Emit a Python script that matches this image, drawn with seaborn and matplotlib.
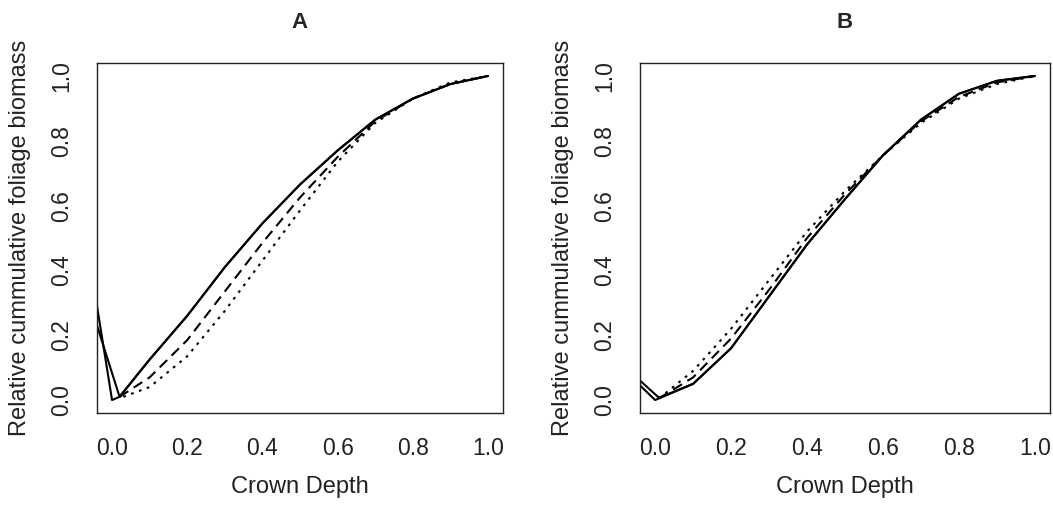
import matplotlib
matplotlib.use("Agg")
import matplotlib.pyplot as plt
import seaborn as sns
import pandas as pd

# ---------------- data ----------------
depth = [0.1, 0.2, 0.3, 0.4, 0.5, 0.6, 0.7, 0.8, 0.9, 1.0]

# Panel A
a_solid1_x = [-0.04, 0.0, 0.02] + depth
a_solid1_y = [0.29, 0.0, 0.01, 0.125, 0.26, 0.41, 0.545, 0.665, 0.77, 0.865, 0.93, 0.975, 1.0]
a_solid2_x = [-0.04, 0.02] + depth
a_solid2_y = [0.23, 0.01, 0.125, 0.26, 0.41, 0.545, 0.665, 0.77, 0.865, 0.93, 0.975, 1.0]
a_dash_x = [0.02] + depth
a_dash_y = [0.01, 0.07, 0.185, 0.335, 0.485, 0.625, 0.75, 0.86, 0.93, 0.975, 1.0]
a_dot_x = [0.03] + depth
a_dot_y = [0.01, 0.04, 0.135, 0.275, 0.43, 0.585, 0.735, 0.855, 0.93, 0.98, 1.0]

# Panel B
b_solid1_x = [-0.04, 0.0] + depth
b_solid1_y = [0.045, 0.0, 0.05, 0.16, 0.32, 0.48, 0.62, 0.755, 0.865, 0.945, 0.985, 1.0]
b_solid2_x = [-0.04, 0.01] + depth
b_solid2_y = [0.06, 0.007, 0.05, 0.16, 0.32, 0.48, 0.62, 0.755, 0.865, 0.945, 0.985, 1.0]
b_dash_x = [0.01] + depth
b_dash_y = [0.005, 0.07, 0.19, 0.34, 0.50, 0.635, 0.755, 0.86, 0.935, 0.98, 1.0]
b_dot_x = [0.01] + depth
b_dot_y = [0.005, 0.09, 0.22, 0.37, 0.52, 0.645, 0.755, 0.855, 0.93, 0.975, 1.0]

ticks = [0.0, 0.2, 0.4, 0.6, 0.8, 1.0]
tick_labels = ["0.0", "0.2", "0.4", "0.6", "0.8", "1.0"]
panel_titles = ["A", "B"]
xlabel = "Crown Depth"
ylabel = "Relative cummulative foliage biomass"

# ---------------- style ----------------
sns.set_style("white")
plt.rcParams["font.family"] = ["Liberation Sans", "DejaVu Sans"]
plt.rcParams["axes.edgecolor"] = "#222222"
plt.rcParams["axes.linewidth"] = 1.0

fig = plt.figure(figsize=(10.53, 5.08), dpi=100)
ax_a = fig.add_axes([97 / 1053, 1 - 413 / 508, (503 - 97) / 1053, (413 - 63) / 508])
ax_b = fig.add_axes([640 / 1053, 1 - 413 / 508, (1050 - 640) / 1053, (413 - 63) / 508])

solid = "-"
dashed = (0, (5, 3))
dotted = (0, (1.3, 2.7))

panels = [
    (ax_a, [(a_solid1_x, a_solid1_y, solid), (a_solid2_x, a_solid2_y, solid),
            (a_dash_x, a_dash_y, dashed), (a_dot_x, a_dot_y, dotted)]),
    (ax_b, [(b_solid1_x, b_solid1_y, solid), (b_solid2_x, b_solid2_y, solid),
            (b_dash_x, b_dash_y, dashed), (b_dot_x, b_dot_y, dotted)]),
]

for (ax, series), title in zip(panels, panel_titles):
    for xs, ys, ls in series:
        df = pd.DataFrame({"x": xs, "y": ys})
        sns.lineplot(data=df, x="x", y="y", ax=ax, color="black", linewidth=1.5,
                     linestyle=ls, estimator=None, sort=False, legend=False)
    ax.set_xlim(-0.04, 1.04)
    ax.set_ylim(-0.04, 1.04)
    ax.set_xticks(ticks)
    ax.set_xticklabels(tick_labels)
    ax.set_yticks(ticks)
    ax.set_yticklabels(tick_labels)
    ax.tick_params(axis="both", direction="out", length=8, width=1.0,
                   color="#222222", labelsize=16.5, labelcolor="#222222", pad=9)
    ax.tick_params(axis="y", labelrotation=90)
    for lab in ax.get_yticklabels():
        lab.set_va("center")
    ax.set_xlabel(xlabel, fontsize=17, color="#222222", labelpad=12)
    ax.set_ylabel(ylabel, fontsize=17, color="#222222", labelpad=14)
    ax.set_title(title, fontsize=16, fontweight="bold", pad=25)
    for sp in ax.spines.values():
        sp.set_visible(True)

fig.savefig("out.png", dpi=100)
